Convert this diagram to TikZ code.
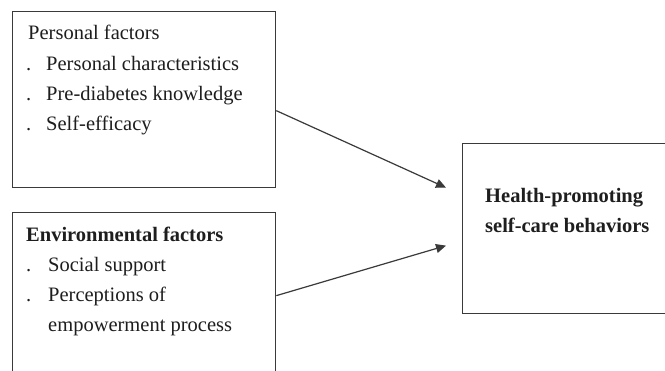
\documentclass[tikz,border=0pt]{standalone}
\usepackage{fontspec}
\setmainfont{Liberation Serif}
\usetikzlibrary{arrows.meta}
\definecolor{ln}{HTML}{3A3A3A}
\definecolor{tx}{HTML}{1E1E1E}
\begin{document}
\begin{tikzpicture}[x=1pt,y=-1pt,
  box/.style={draw=ln,line width=1.3pt,rectangle,anchor=north west,inner sep=0pt},
  txt/.style={anchor=base west,inner sep=0pt,text=tx,font=\fontsize{20.5}{24}\selectfont},
  btxt/.style={txt,font=\fontsize{20.5}{24}\selectfont\bfseries},
  conn/.style={draw=ln,line width=1.2pt,-{Triangle[length=10pt,width=9pt]}}]
\useasboundingbox (0,0) rectangle (665,371);
\clip (0,0) rectangle (665,371);
\fill[white] (0,0) rectangle (665,371);
% boxes
\node[box,minimum width=263pt,minimum height=176pt] (pf) at (12,11) {};
\node[box,minimum width=263pt,minimum height=166pt] (ef) at (12,212) {};
\node[box,minimum width=215pt,minimum height=170pt] (hb) at (462,143) {};
% personal factors text
\node[txt] (t1) at (28,40) {Personal factors};
\node[txt] (b1) at (26,71) {.};
\node[txt] (t2) at (46,71) {Personal characteristics};
\node[txt] (b2) at (26,101) {.};
\node[txt] (t3) at (46,101) {Pre-diabetes knowledge};
\node[txt] (b3) at (26,131) {.};
\node[txt] (t4) at (46,131) {Self-efficacy};
% environmental factors text
\node[btxt] (e1) at (26,242) {Environmental factors};
\node[txt] (c1) at (26,272) {.};
\node[txt] (e2) at (48,272) {Social support};
\node[txt] (c2) at (26,302) {.};
\node[txt] (e3) at (48,302) {Perceptions of};
\node[txt] (e4) at (48,332) {empowerment process};
% outcome text
\node[btxt] (h1) at (485,203) {Health-promoting};
\node[btxt] (h2) at (485,233) {self-care behaviors};
% connectors
\coordinate (a1) at ([xshift=-16pt,yshift=41pt]hb.west);
\coordinate (a2) at ([xshift=-16pt,yshift=-17pt]hb.west);
\draw[conn] ([yshift=-11pt]pf.east) -- (a1);
\draw[conn] (ef.east) -- (a2);
\end{tikzpicture}
\end{document}
